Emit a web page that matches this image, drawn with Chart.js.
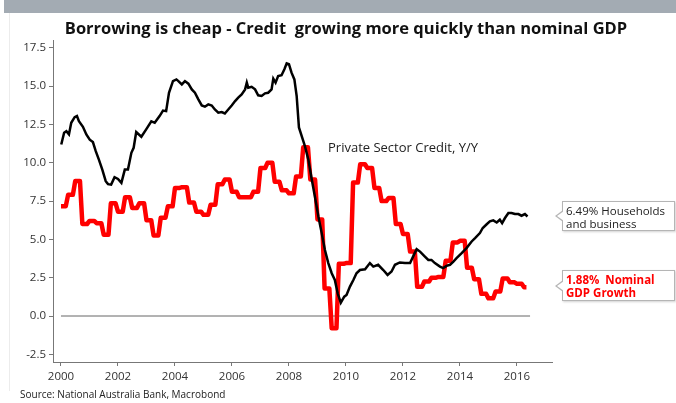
<!DOCTYPE html>
<html>
<head>
<meta charset="utf-8">
<script src="https://cdn.jsdelivr.net/npm/chart.js@4.4.1/dist/chart.umd.min.js"></script>
<style>
  body { margin: 0; background: #fff; }
  #wrap { position: relative; width: 676px; height: 403px; overflow: hidden; font-family: "Open Sans", sans-serif; }
  #band { position: absolute; left: 4px; top: 0; width: 672px; height: 13px; background: #a3abb3; }
  #edge { position: absolute; left: 9px; top: 13px; width: 1px; height: 378px; background: #ececec; }
  #title { position: absolute; left: 0; top: 16px; width: 692px; text-align: center; font-weight: bold; font-size: 16.5px; color: #111; white-space: pre; }
  #source { position: absolute; left: 20px; top: 387px; font-size: 10px; color: #222; }
  #note { position: absolute; left: 328px; top: 138px; font-size: 13px; color: #222; }
  .box { position: absolute; left: 562px; width: 113px; box-sizing: border-box; border: 1px solid #b5b5b5; background: #fff;
         box-shadow: 1px 1px 2px rgba(0,0,0,0.18); font-size: 11.5px; line-height: 13px; padding: 2px 0 0 3px; }
  .box::before { content: ""; position: absolute; left: -8px; top: 50%; margin-top: -6px; border-style: solid;
                 border-width: 6px 8px 6px 0; border-color: transparent #b5b5b5 transparent transparent; }
  .box::after { content: ""; position: absolute; left: -6px; top: 50%; margin-top: -5px; border-style: solid;
                border-width: 5px 7px 5px 0; border-color: transparent #fff transparent transparent; }
  #box1 { top: 201px; height: 30px; color: #222; }
  #box2 { top: 270px; height: 31px; color: #f00; font-weight: bold; }
  canvas { position: absolute; left: 0; top: 0; }
</style>
</head>
<body>
<div id="wrap">
  <div id="band"></div>
  <div id="edge"></div>
  <canvas id="myChart" width="676" height="403"></canvas>
  <div id="title">Borrowing is cheap - Credit  growing more quickly than nominal GDP</div>
  <div id="note">Private Sector Credit, Y/Y</div>
  <div class="box" id="box1">6.49% Households<br>and business</div>
  <div class="box" id="box2">1.88%&nbsp; Nominal<br>GDP Growth</div>
  <div id="source">Source: National Australia Bank, Macrobond</div>
</div>
<script>
// private sector credit, Y/Y % (decimal year, value)
var creditYears = [2000.01, 2000.11, 2000.19, 2000.28, 2000.36, 2000.48, 2000.56, 2000.63, 2000.77, 2000.89,
  2001.01, 2001.12, 2001.22, 2001.33, 2001.45, 2001.57, 2001.65, 2001.76, 2001.88,
  2002.0, 2002.12, 2002.24, 2002.35, 2002.47, 2002.55, 2002.64, 2002.82, 2002.99,
  2003.17, 2003.29, 2003.46, 2003.58, 2003.69, 2003.79, 2003.93,
  2004.05, 2004.12, 2004.24, 2004.35, 2004.47, 2004.59, 2004.7, 2004.82, 2004.94,
  2005.05, 2005.17, 2005.29, 2005.4, 2005.52, 2005.64, 2005.75, 2005.87, 2005.99,
  2006.11, 2006.22, 2006.34, 2006.46, 2006.52, 2006.57, 2006.69, 2006.81, 2006.92,
  2007.04, 2007.16, 2007.27, 2007.39, 2007.45, 2007.53, 2007.62, 2007.74, 2007.84, 2007.92,
  2008.0, 2008.09, 2008.19, 2008.27, 2008.35, 2008.56, 2008.68, 2008.8, 2008.91,
  2009.03, 2009.15, 2009.26, 2009.38, 2009.5, 2009.61, 2009.71, 2009.82, 2009.94,
  2010.02, 2010.14, 2010.26, 2010.37, 2010.49, 2010.67, 2010.84, 2010.96,
  2011.13, 2011.31, 2011.46, 2011.6, 2011.72, 2011.89,
  2012.07, 2012.25, 2012.4, 2012.48, 2012.6, 2012.77, 2012.89,
  2013.0, 2013.12, 2013.3, 2013.41, 2013.53, 2013.65, 2013.77, 2013.88,
  2014.06, 2014.23, 2014.41, 2014.53, 2014.7, 2014.8, 2014.92,
  2015.05, 2015.17, 2015.29, 2015.4, 2015.48, 2015.58, 2015.7, 2015.81, 2015.93,
  2016.05, 2016.16, 2016.28, 2016.37];
var creditValues = [11.18, 11.95, 12.05, 11.84, 12.6, 12.97, 13.04, 12.7, 12.34, 11.84,
  11.5, 11.34, 10.75, 10.2, 9.55, 8.79, 8.6, 8.57, 9.05,
  8.94, 8.68, 9.55, 9.55, 10.64, 10.97, 12.0, 11.69, 12.17,
  12.7, 12.6, 13.04, 13.4, 13.36, 14.56, 15.32,
  15.43, 15.32, 15.1, 15.32, 15.15, 14.78, 14.56, 14.13, 13.73,
  13.65, 13.8, 13.73, 13.47, 13.26, 13.3, 13.21, 13.47, 13.73,
  14.02, 14.24, 14.45, 14.78, 15.22, 14.89, 14.95, 14.78, 14.39,
  14.35, 14.52, 14.56, 14.78, 15.48, 15.22, 15.65, 15.7, 16.09, 16.48,
  16.42, 15.87, 15.43, 14.35, 12.3, 11.08, 10.2, 8.9, 7.8,
  6.5, 5.4, 4.32, 3.45, 2.79, 2.35, 1.48, 0.87, 1.26,
  1.37, 1.92, 2.35, 2.79, 3.0, 3.05, 3.45, 3.22,
  3.34, 3.0, 2.68, 2.9, 3.34, 3.49,
  3.45, 3.45, 4.05, 4.36, 4.2, 3.88, 3.66,
  3.66, 3.45, 3.22, 3.12, 3.27, 3.34, 3.55, 3.77,
  4.1, 4.43, 4.86, 5.08, 5.41, 5.74, 5.95,
  6.17, 6.24, 6.1, 6.28, 6.06, 6.39, 6.72, 6.72, 6.65,
  6.65, 6.54, 6.65, 6.49];

// nominal GDP growth, Y/Y %, quarterly from 2000 Q1 to 2016 Q2 (plotted monthly)
var gdpStart = 2000;
var gdpValues = [7.15, 7.9, 8.8, 6.0, 6.2, 6.05, 5.3, 7.35,
  6.8, 7.75, 7.05, 7.35, 6.25, 5.25, 6.4, 7.15,
  8.35, 8.4, 7.4, 6.8, 6.6, 7.25, 8.6, 8.9,
  8.1, 7.75, 7.75, 8.1, 9.65, 10.0, 8.75, 8.2,
  8.0, 9.1, 11.0, 8.9, 6.3, 1.8, -0.8, 3.4,
  3.45, 8.7, 9.9, 9.65, 8.35, 7.5, 7.7, 6.0,
  5.35, 4.2, 1.9, 2.25, 2.5, 2.55, 3.6, 4.8,
  4.9, 3.15, 2.4, 1.45, 1.15, 1.6, 2.45, 2.2,
  2.1, 1.88];

var zeroSpan = [2000, 2016.46];
var yTicks = [-2.5, 0, 2.5, 5, 7.5, 10, 12.5, 15, 17.5];
var xTicks = [2000, 2002, 2004, 2006, 2008, 2010, 2012, 2014, 2016];

var creditData = creditYears.map(function (x, i) { return { x: x, y: creditValues[i] }; });
var gdpData = [];
gdpValues.forEach(function (v, i) {
  var months = (i === gdpValues.length - 1) ? 2 : 3;
  for (var m = 0; m < months; m++) gdpData.push({ x: gdpStart + i / 4 + m / 12, y: v });
});

var tickFont = { family: "Open Sans", size: 11.5 };

var ctx = document.getElementById("myChart");
var myChart = new Chart(ctx, {
  type: 'line',
  data: {
    datasets: [{
      label: 'Private Sector Credit',
      data: creditData,
      borderColor: '#000',
      borderWidth: 2.5,
      pointRadius: 0,
      order: 0
    }, {
      label: 'Nominal GDP',
      data: gdpData,
      borderColor: '#ff0000',
      borderWidth: 4.5,
      borderJoinStyle: 'round',
      pointRadius: 0,
      order: 1
    }, {
      label: 'zero',
      data: zeroSpan.map(function (x) { return { x: x, y: 0 }; }),
      borderColor: '#666',
      borderWidth: 1,
      pointRadius: 0,
      order: 2
    }]
  },
  options: {
    responsive: false,
    animation: false,
    layout: { padding: { left: 0, right: 124, top: 40, bottom: 0 } },
    plugins: { legend: { display: false }, title: { display: false }, tooltip: { enabled: false } },
    scales: {
      x: {
        type: 'linear',
        min: 1999.72,
        max: 2017.23,
        afterFit: function (s) { s.height = 41; },
        afterBuildTicks: function (s) { s.ticks = xTicks.map(function (v) { return { value: v }; }); },
        border: { display: true, color: '#777', width: 1 },
        grid: { display: true, drawOnChartArea: false, drawTicks: true, tickLength: 4, color: '#777' },
        ticks: { color: '#333', font: tickFont, padding: 4, maxRotation: 0, callback: function (v) { return String(v); } }
      },
      y: {
        min: -3,
        max: 18,
        afterFit: function (s) { s.width = 53; },
        afterBuildTicks: function (s) { s.ticks = yTicks.map(function (v) { return { value: v }; }); },
        border: { display: true, color: '#777', width: 1 },
        grid: { display: true, drawOnChartArea: false, drawTicks: true, tickLength: 4, color: '#777' },
        ticks: { color: '#333', font: tickFont, padding: 3, callback: function (v) { return v.toFixed(1); } }
      }
    }
  }
});
</script>
</body>
</html>
